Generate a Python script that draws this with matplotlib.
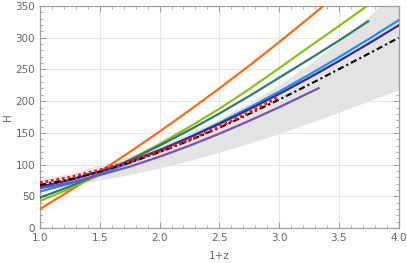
import numpy as np
import matplotlib
matplotlib.use('Agg')
import matplotlib.pyplot as plt
from matplotlib.ticker import MultipleLocator, FormatStrFormatter

# redshift grid (1+z) used for the tabulated curves
xs = [1.0, 1.25, 1.5, 1.75, 2.0, 2.25, 2.5, 2.75, 3.0, 3.25, 3.5, 3.75, 4.0]

# gray confidence band
band_lo = [63, 68.5, 75.5, 84.4, 94.7, 106.4, 119.5, 133.7, 149.0, 165.2, 182.4, 200.3, 218.0]
band_hi = [76, 86, 99, 114, 131, 150.5, 172, 197, 226, 258, 294, 334, 378]

# model curves
x_orange = xs[:11]
h_orange = [30, 58.8, 88.6, 119.8, 152.0, 185.5, 220.2, 256.0, 293.1, 331.4, 370.7]

x_green = xs[:12]
h_green = [42.6, 62, 84, 107.5, 132.5, 159.5, 188, 219, 252, 285.5, 318.5, 352]

x_teal = xs[:11] + [3.745]
h_teal = [47.9, 65.5, 85.5, 107, 130, 154.5, 180.5, 208, 237, 266, 295.5, 326]

x_blue = xs
h_blue = [57.5, 69.9, 85.0, 102.5, 122.0, 143.1, 165.8, 189.8, 215.1, 241.7, 269.3, 298.0, 327.8]

x_navy = xs
h_navy = [65.0, 75.6, 89.0, 104.9, 122.9, 142.8, 164.2, 187.1, 211.3, 236.7, 263.3, 291.0, 319.6]

x_black = xs
h_black = [68, 77, 89, 103, 119.5, 138, 158, 180, 202.5, 226, 250.5, 275, 300]

x_purple = xs[:10] + [3.33]
h_purple = [62.6, 71.4, 83.5, 96.7, 112.4, 129.8, 148.7, 169.0, 190.4, 213.1, 220.5]

x_red = xs[:9]
h_red = [71.5, 80, 91.5, 105, 121, 139, 159.5, 182, 207]

fig = plt.figure(figsize=(4.07, 2.63), dpi=100)
ax = fig.add_axes([0.0983, 0.1331, 0.8813, 0.8439])

ax.fill_between(xs, band_lo, band_hi, color='#e3e3e3', lw=0, zorder=1)

lw = 1.6
ax.plot(x_orange, h_orange, color='#ff6a1a', lw=lw, zorder=3)
ax.plot(x_green, h_green, color='#8fbf1f', lw=lw, zorder=3)
ax.plot(x_teal, h_teal, color='#2f7a6c', lw=lw, zorder=3)
ax.plot(x_blue, h_blue, color='#1e8ff0', lw=lw, zorder=3)
ax.plot(x_navy, h_navy, color='#3a2c8a', lw=lw, zorder=3)
ax.plot(x_purple, h_purple, color='#7d4fb3', lw=lw, zorder=3)
ax.plot(x_black, h_black, color='black', lw=1.5, linestyle=(0, (3, 1.5, 1, 1.5)), zorder=4)
ax.plot(x_red, h_red, color='#ff1010', lw=2.0, linestyle=(0, (1, 1)), zorder=5)

ax.set_xlim(1.0, 4.0)
ax.set_ylim(0, 350)
ax.xaxis.set_major_locator(MultipleLocator(0.5))
ax.xaxis.set_minor_locator(MultipleLocator(0.1))
ax.yaxis.set_major_locator(MultipleLocator(50))
ax.yaxis.set_minor_locator(MultipleLocator(10))
ax.xaxis.set_major_formatter(FormatStrFormatter('%.1f'))

ax.grid(True, which='major', color='#e8e8e8', lw=0.8, zorder=0)
ax.set_axisbelow(True)

for s in ax.spines.values():
    s.set_color('#a0a0a0')
    s.set_linewidth(0.9)
ax.tick_params(which='both', direction='in', top=True, right=True,
               colors='#a0a0a0', labelcolor='#666666', labelsize=7.5)
ax.tick_params(which='major', length=4, width=0.8)
ax.tick_params(which='minor', length=2, width=0.6)

ax.set_xlabel('1+z', fontsize=7.5, color='#666666', labelpad=6)
ax.set_ylabel('H', fontsize=7.5, color='#666666', labelpad=2)

fig.savefig('out.png', dpi=100)
